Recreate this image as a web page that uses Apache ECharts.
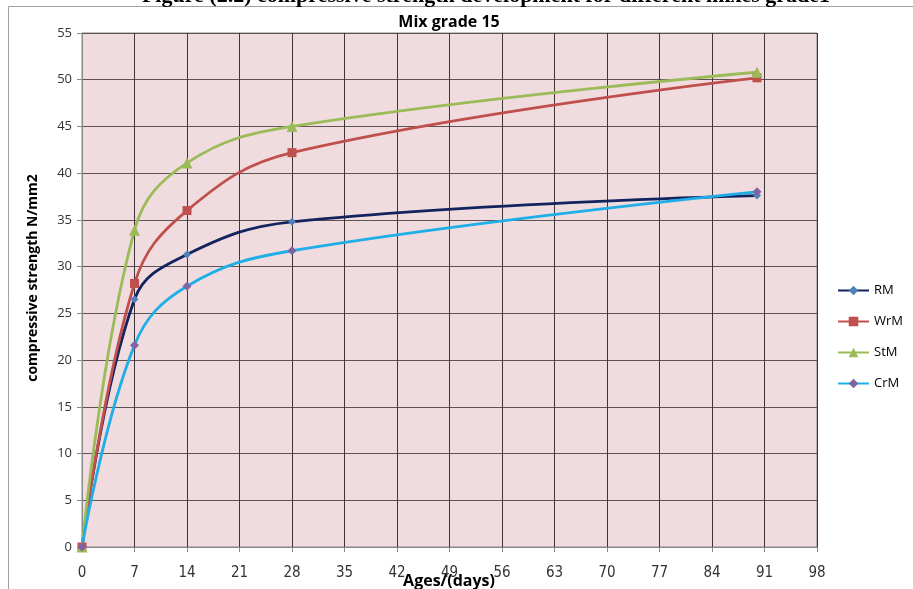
<!DOCTYPE html>
<html>
<head>
<meta charset="utf-8">
<script src="https://cdn.jsdelivr.net/npm/echarts@6/dist/echarts.min.js"></script>
<style>
html,body{margin:0;padding:0;background:#fff;}
#chart{width:913px;height:589px;}
</style>
</head>
<body>
<div id="chart"></div>
<script>
const days = [0, 7, 14, 28, 90];
const RM  = [0, 26.5, 31.3, 34.8, 37.6];
const WrM = [0, 28.2, 36.0, 42.2, 50.2];
const StM = [0, 33.9, 41.1, 45.0, 50.8];
const CrM = [0, 21.6, 27.9, 31.7, 38.0];
const xTicks = [0, 98, 7];   // min, max, interval
const yTicks = [0, 55, 5];

function pairs(ys){ return days.map((d,i)=>[d, ys[i]]); }

const chart = echarts.init(document.getElementById('chart'));
const mk = (name, ys, lineColor, markColor, symbol, size) => ({
  name, type:'line', data: pairs(ys), smooth:0.4,
  symbol, symbolSize:size, showSymbol:true,
  lineStyle:{color:lineColor, width:2.8},
  itemStyle:{color:markColor, borderWidth:0},
  emphasis:{disabled:true}
});

chart.setOption({
  animation:false,
  backgroundColor:'#fff',
  graphic:[
    {type:'rect', shape:{x:8.5,y:6.5,width:1000,height:700}, style:{fill:null, stroke:'#a0a0a0', lineWidth:1}, z:-1},
    {type:'text', style:{x:486, y:7, text:'Figure (2.2) compressive strength development for different mixes grade1',
      font:'bold 22px "Liberation Serif", "Times New Roman", serif', fill:'#000', textAlign:'center', textVerticalAlign:'bottom'}},
    {type:'text', style:{x:449, y:22, text:'Mix grade 15', font:'bold 16px "Open Sans", sans-serif', fill:'#000', textAlign:'center', textVerticalAlign:'middle'}},
    {type:'text', style:{x:449, y:581, text:'Ages/(days)', font:'bold 16px "Open Sans", sans-serif', fill:'#000', textAlign:'center', textVerticalAlign:'middle'}},
    {type:'text', x:33, y:278, rotation:Math.PI/2, style:{x:0, y:0, text:'compressive strength N/mm2', font:'bold 14px "Open Sans", sans-serif', fill:'#000', textAlign:'center', textVerticalAlign:'middle'}}
  ],
  legend:{
    orient:'vertical', left:832, top:279, itemWidth:31, itemHeight:12, itemGap:18,
    textStyle:{fontFamily:'"Open Sans", sans-serif', fontSize:13, color:'#000', lineHeight:12},
    data:['RM','WrM','StM','CrM']
  },
  grid:{left:82, right:96, top:33, bottom:42, show:true, backgroundColor:'#F0DCDE', borderColor:'#8a8282', borderWidth:1},
  xAxis:{
    type:'value', min:xTicks[0], max:xTicks[1], interval:xTicks[2],
    axisLine:{show:true, lineStyle:{color:'#8a8a8a'}},
    axisTick:{show:true, length:5, lineStyle:{color:'#8a8a8a'}},
    axisLabel:{color:'#333', fontFamily:'"DejaVu Sans Condensed", "Open Sans", sans-serif', fontSize:15, margin:19},
    splitLine:{show:true, lineStyle:{color:'#3e3636', width:1}}
  },
  yAxis:{
    type:'value', min:yTicks[0], max:yTicks[1], interval:yTicks[2],
    axisLine:{show:true, lineStyle:{color:'#8a8a8a'}},
    axisTick:{show:true, length:5, lineStyle:{color:'#8a8a8a'}},
    axisLabel:{color:'#333', fontFamily:'"Open Sans", sans-serif', fontSize:13, margin:10},
    splitLine:{show:true, lineStyle:{color:'#5e5454', width:1}}
  },
  series:[
    mk('RM', RM, '#13235E', '#4F81BD', 'diamond', 8),
    mk('WrM', WrM, '#C0504D', '#C0504D', 'rect', 9),
    mk('StM', StM, '#9BBB59', '#9BBB59', 'triangle', 11),
    mk('CrM', CrM, '#1FAEE8', '#8064A2', 'diamond', 9)
  ]
});
</script>
</body>
</html>
